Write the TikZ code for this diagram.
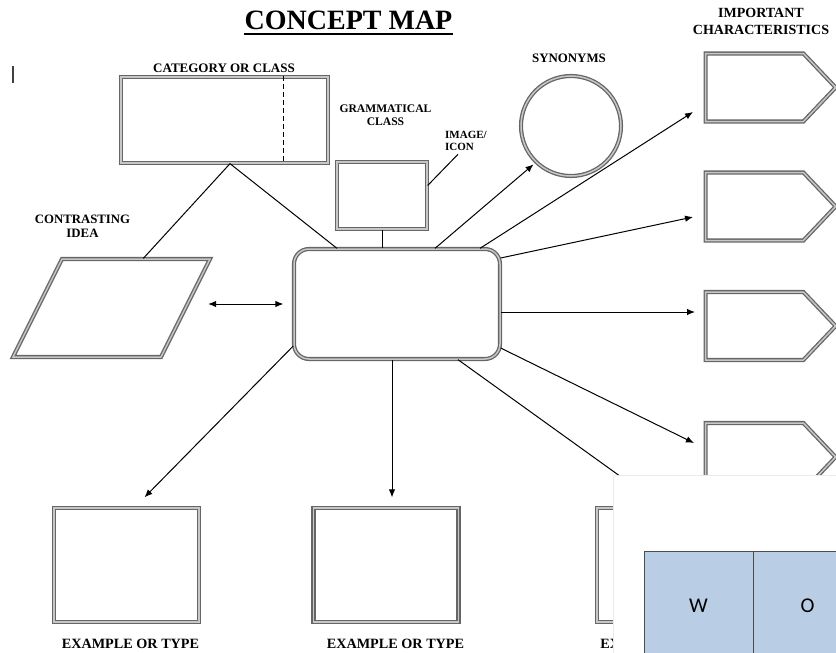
\documentclass[tikz,border=0pt]{standalone}
\usepackage{fontspec}
\setmainfont{Liberation Serif}
\newfontfamily\cellfont{Carlito}
\usetikzlibrary{shapes.geometric,shapes.symbols,arrows.meta}
\definecolor{cellblue}{RGB}{185,205,228}

\begin{document}
\begin{tikzpicture}[x=1pt, y=-1pt, >={Latex[length=8pt,width=6.5pt]}]
        \tikzset{
            lbl/.style 2 args={inner sep=0pt, align=center, font=\bfseries\fontsize{#1}{#2}\selectfont},
            dbl/.style={draw=black!60, double=black!22, double distance=1.5pt, line width=1.3pt},
            box/.style={dbl, rectangle, inner sep=0pt},
            tag/.style={dbl, signal, signal to=east, signal pointer angle=93, minimum width=130pt, minimum height=68pt, inner sep=0pt, anchor=west},
            arrow/.style={->, line width=1pt},
            link/.style={line width=1pt},
            cell/.style={draw=black!70, fill=cellblue, minimum width=109pt, minimum height=110pt, font=\cellfont\fontsize{21}{24}\selectfont}
        }
        \useasboundingbox (0,0) rectangle (836,653);
        \clip (0,0) rectangle (836,653);

        \node[lbl={28}{32}, anchor=base] (title) at (348.5,30) {CONCEPT MAP};
        \draw[line width=1.8pt] ([yshift=-4pt]title.base west) -- ([yshift=-4pt]title.base east);
        \draw[line width=1.5pt, black!75] (13,66) -- (13,83);

        % shapes
        \node[box, minimum width=207pt, minimum height=86pt] (cat) at (224.5,120) {};
        \node[box, minimum width=90pt, minimum height=67pt] (gram) at (382,195.5) {};
        \node[box, rounded corners=15pt, minimum width=206pt, minimum height=110pt] (mid) at (397,304) {};
        \node[dbl, circle, minimum size=100pt, inner sep=0pt] (syn) at (571,126) {};
        \node[box, xslant=0.5, minimum width=148pt, minimum height=98pt] (para) at (111.5,308) {};

        \node[tag] (p1) at (705,87.5) {};
        \node[tag] (p2) at (705,206.5) {};
        \node[tag] (p3) at (705,326) {};
        \node[tag] (p4) at (705,457) {};

        \node[box, minimum width=145pt, minimum height=114pt] (ex1) at (126.5,565) {};
        \node[box, minimum width=145pt, minimum height=114pt] (ex2) at (386,565) {};
        \node[box, minimum width=145pt, minimum height=114pt] (ex3) at (669.5,565) {};

        \draw[line width=1.2pt, dash pattern=on 5pt off 3pt] ([xshift=-45pt]cat.north east) -- ([xshift=-45pt]cat.south east);

        % labels
        \node[lbl={13}{15}, anchor=base] (catlbl) at (224,72) {CATEGORY OR CLASS};
        \node[lbl={11.6}{13}, anchor=north] (gramlbl) at (385.5,105) {GRAMMATICAL\\CLASS};
        \node[lbl={11}{12}, anchor=north west, align=left] (img) at (445,131.5) {IMAGE/\\ICON};
        \node[lbl={12.9}{15}, anchor=base] (synlbl) at (569,62) {SYNONYMS};
        \node[lbl={14}{17.5}, anchor=north] (implbl) at (761,8) {IMPORTANT\\CHARACTERISTICS};
        \node[lbl={12.8}{14}, anchor=north] (conlbl) at (82.5,215) {CONTRASTING\\IDEA};
        \node[lbl={14.2}{16}, anchor=base] (ex1lbl) at (130.5,648) {EXAMPLE OR TYPE};
        \node[lbl={14.2}{16}, anchor=base] (ex2lbl) at (395.5,648) {EXAMPLE OR TYPE};
        \node[lbl={14.2}{16}, anchor=base] (ex3lbl) at (669,648) {EXAMPLE OR TYPE};

        % connectors
        \draw[link] ([xshift=5.5pt]cat.south) -- ([xshift=7pt]para.north);
        \draw[link] ([xshift=5.5pt]cat.south) -- ([xshift=-60pt]mid.north);
        \draw[link] (gram.south) -- (gram.south |- mid.north);
        \draw[link] ([yshift=10pt]gram.east) -- ([xshift=13pt,yshift=-3pt]img.south west);
        \draw[line width=1pt, <->, shorten <=22pt, shorten >=10pt] (para.east |- mid.west) -- (mid.west);

        \draw[arrow, shorten >=3pt] ([xshift=38pt]mid.north) -- (syn.226);
        \draw[arrow] ([xshift=83pt]mid.north) -- ([xshift=-12pt,yshift=-24.5pt]p1.west);
        \draw[arrow] ([yshift=46pt]mid.east) -- ([xshift=-12pt,yshift=-10.5pt]p2.west);
        \draw[arrow] ([yshift=-8pt]mid.east) -- ([xshift=-10pt,yshift=14pt]p3.west);
        \draw[arrow] ([yshift=-44pt]mid.east) -- ([xshift=-11pt,yshift=14pt]p4.west);

        \draw[arrow] (mid.202) -- ([xshift=18pt,yshift=10pt]ex1.north);
        \draw[arrow] ([xshift=-5pt]mid.south) -- ([xshift=6pt,yshift=10pt]ex2.north);
        \draw[arrow] ([xshift=61pt]mid.south) -- ([xshift=-20pt,yshift=10pt]ex3.north);

        % pasted table on top
        \draw[draw=black!8, fill=white] (613,475) rectangle (850,670);
        \node[cell] (w) at (698.5,606) {W};
        \node[cell] (o) at (807.5,606) {O};
    \end{tikzpicture}
\end{document}
